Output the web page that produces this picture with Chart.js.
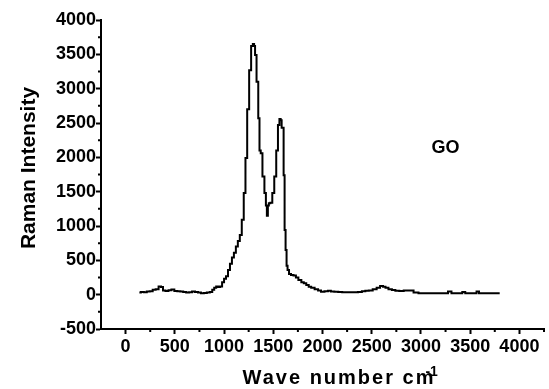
<!DOCTYPE html>
<html>
<head>
<meta charset="utf-8">
<script src="https://cdn.jsdelivr.net/npm/chart.js@4"></script>
<style>
  html, body { margin: 0; padding: 0; background: #fff; }
  #wrap { width: 549px; height: 389px; }
</style>
</head>
<body>
<div id="wrap"><canvas id="chart" width="549" height="389"></canvas></div>
<script>
// Raman spectrum of GO
const wavenumbers = [
  140, 170, 200, 230, 260, 290, 320, 350, 370, 390, 420, 450, 480, 510, 540, 570, 600, 630, 660, 690,
  720, 750, 780, 810, 840, 870, 890, 910, 930, 950, 970, 990, 1010, 1030, 1050, 1070, 1090, 1110, 1130, 1150,
  1170, 1190, 1210, 1225, 1245, 1265, 1285, 1300, 1310, 1320, 1340, 1355, 1365, 1380, 1400, 1420, 1430, 1440, 1450, 1460,
  1480, 1500, 1520, 1540, 1555, 1570, 1580, 1590, 1600, 1610, 1620, 1630, 1640, 1650, 1670, 1690, 1720, 1740, 1770, 1800,
  1820, 1850, 1870, 1900, 1940, 1970, 2000, 2040, 2070, 2100, 2140, 2180, 2220, 2260, 2300, 2340, 2380, 2420, 2450, 2490,
  2530, 2570, 2600, 2630, 2650, 2690, 2720, 2760, 2800, 2850, 2900, 2950, 3000, 3050, 3100, 3150, 3200, 3250, 3300, 3320,
  3350, 3400, 3440, 3460, 3500, 3550, 3580, 3600, 3650, 3700, 3750, 3800
];
const intensity = [
  30, 40, 35, 45, 50, 70, 80, 120, 110, 60, 55, 65, 75, 55, 50, 45, 40, 30, 35, 45,
  40, 30, 20, 25, 30, 40, 70, 100, 118, 110, 120, 180, 230, 270, 360, 450, 540, 610, 700, 780,
  870, 1090, 1480, 1990, 2700, 3270, 3620, 3650, 3620, 3490, 3100, 2570, 2100, 2060, 1720, 1480, 1300, 1150, 1300, 1330,
  1340, 1480, 1720, 2100, 2470, 2560, 2540, 2430, 2430, 1740, 940, 650, 420, 360, 300, 287, 280, 250, 214, 180,
  166, 140, 117, 100, 78, 60, 44, 50, 58, 45, 44, 40, 34, 34, 36, 34, 40, 50, 58, 60,
  78, 100, 126, 115, 102, 80, 68, 58, 55, 62, 60, 30, 22, 20, 22, 20, 22, 20, 45, 20,
  22, 20, 40, 20, 20, 20, 45, 20, 20, 20, 20, 20
];
const xTicks = [0, 500, 1000, 1500, 2000, 2500, 3000, 3500, 4000];
const yTicks = [-500, 0, 500, 1000, 1500, 2000, 2500, 3000, 3500, 4000];
const xMinor = [250, 750, 1250, 1750, 2250, 2750, 3250, 3750, 4250];
const yMinor = [-250, 250, 750, 1250, 1750, 2250, 2750, 3250, 3750];
const sampleLabel = 'GO';

const FONT = "'Liberation Sans', Arial, sans-serif";

const extras = {
  id: 'extras',
  afterDraw(chart) {
    const { ctx, chartArea, scales } = chart;
    const x = scales.x, y = scales.y;
    ctx.save();
    ctx.strokeStyle = '#000';
    ctx.lineWidth = 2;
    // minor ticks
    ctx.beginPath();
    xMinor.forEach(v => {
      const px = x.getPixelForValue(v);
      ctx.moveTo(px, chartArea.bottom);
      ctx.lineTo(px, chartArea.bottom + 3);
    });
    yMinor.forEach(v => {
      const py = y.getPixelForValue(v);
      ctx.moveTo(chartArea.left, py);
      ctx.lineTo(chartArea.left - 3, py);
    });
    ctx.stroke();

    ctx.fillStyle = '#000';
    // y title
    ctx.save();
    ctx.translate(29, 168);
    ctx.rotate(-Math.PI / 2);
    ctx.font = 'bold 21px ' + FONT;
    ctx.textAlign = 'center';
    ctx.textBaseline = 'middle';
    ctx.fillText('Raman Intensity', 0, 0);
    ctx.restore();

    // x title with superscript
    ctx.font = 'bold 20px ' + FONT;
    ctx.letterSpacing = '2px';
    ctx.textAlign = 'left';
    ctx.textBaseline = 'alphabetic';
    const main = 'Wave number cm';
    const w = ctx.measureText(main).width;
    const x0 = 339 - w / 2;
    ctx.fillText(main, x0, 384);
    ctx.letterSpacing = '0px';
    ctx.font = 'bold 14px ' + FONT;
    ctx.fillText('-1', x0 + w - 10, 376);

    // sample label
    ctx.font = 'bold 18px ' + FONT;
    ctx.textAlign = 'center';
    ctx.textBaseline = 'middle';
    ctx.fillText(sampleLabel, x.getPixelForValue(3250), y.getPixelForValue(2135));
    ctx.restore();
  }
};

new Chart(document.getElementById('chart'), {
  type: 'scatter',
  data: {
    datasets: [{
      data: wavenumbers.map((w, i) => ({ x: w, y: intensity[i] })),
      showLine: true,
      stepped: 'middle',
      borderColor: '#000',
      borderWidth: 2,
      pointRadius: 0,
      tension: 0
    }]
  },
  options: {
    responsive: false,
    animation: false,
    layout: { padding: { left: 0, top: 20, right: 5, bottom: 0 } },
    plugins: { legend: { display: false }, tooltip: { enabled: false } },
    scales: {
      x: {
        type: 'linear',
        min: -250,
        max: 4250,
        afterBuildTicks: axis => { axis.ticks = xTicks.map(v => ({ value: v })); },
        afterFit: axis => { axis.height = 60; },
        grid: { drawOnChartArea: false, tickLength: 5, tickWidth: 2, tickColor: '#000' },
        border: { color: '#000', width: 2 },
        ticks: {
          color: '#000',
          padding: 2,
          maxRotation: 0,
          autoSkip: false,
          callback: v => String(v),
          font: { family: FONT, size: 18, weight: 'bold' }
        }
      },
      y: {
        min: -500,
        max: 4000,
        afterBuildTicks: axis => { axis.ticks = yTicks.map(v => ({ value: v })); },
        afterFit: axis => { axis.width = 101; },
        grid: { drawOnChartArea: false, tickLength: 5, tickWidth: 2, tickColor: '#000' },
        border: { color: '#000', width: 2 },
        ticks: {
          color: '#000',
          padding: 0,
          autoSkip: false,
          callback: v => String(v),
          font: { family: FONT, size: 18, weight: 'bold' }
        }
      }
    }
  },
  plugins: [extras]
});
</script>
</body>
</html>
